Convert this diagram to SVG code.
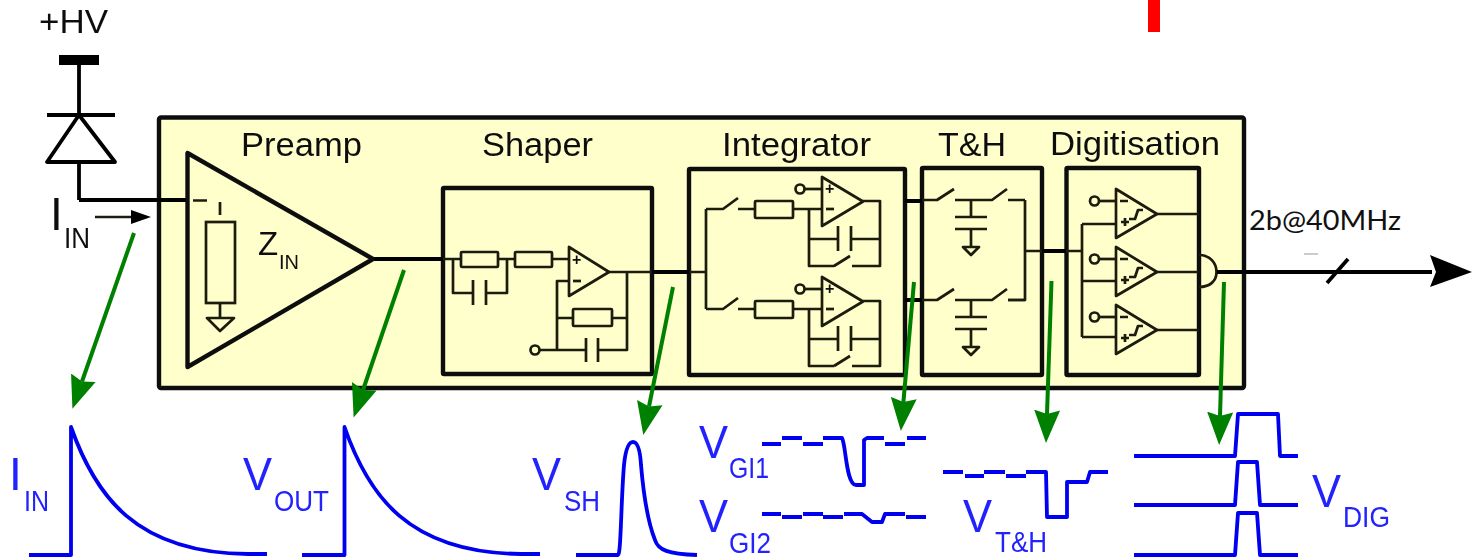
<svg xmlns="http://www.w3.org/2000/svg" xmlns:xlink="http://www.w3.org/1999/xlink" width="1472" height="558" viewBox="0 0 1472 558">
<style>
text{font-family:"Liberation Sans",Arial,sans-serif;fill:#111}
.t{font-size:33px}
.big{font-size:46px}
.sub{font-size:29px}
.b{fill:#2222ff}
.box{fill:none;stroke:#111;stroke-width:4.4;stroke-linejoin:round}
.w{fill:none;stroke:#1a1a10;stroke-width:2.7;stroke-linejoin:round}
.k{fill:none;stroke:#000;stroke-width:3.8;stroke-linejoin:round}
.c{fill:#ffffcc;stroke:#1a1a10;stroke-width:2.7}
.wave{fill:none;stroke:#0000f0;stroke-width:3.8;stroke-linejoin:round}
.g{fill:none;stroke:#008000;stroke-width:4;marker-end:url(#gh)}
.m{font-size:16px;font-weight:bold}
</style>
<defs>
<filter id="soft" x="0" y="0" width="100%" height="100%"><feGaussianBlur stdDeviation="0.5"/></filter>
<marker id="gh" markerUnits="userSpaceOnUse" markerWidth="36" markerHeight="28" refX="4" refY="14" orient="auto"><path d="M0,1L33,14L0,27L4,14Z" fill="#008000"/></marker>
<g id="amp"><path class="w" d="M0,0V49L41,24.500Z"/><text class="m" x="3" y="17">+</text><path class="w" d="M4,32H12"/></g>
<g id="cmp"><path class="w" d="M0,0V49L41,25Z"/><path class="w" d="M4,12H12M5,33H13M9,29V37"/><path class="w" d="M13,30H19L22,21H27"/><circle class="c" cx="-21.500" cy="12" r="4.500"/><path class="w" d="M-17,12H0"/></g>
<g id="gnd"><path class="w" d="M0,0V18M-8,18H8L0,26Z"/><path class="w" d="M-16,-12H16M-16,0H16"/></g>
<g id="intch">
<path class="w" d="M706,209H723L738,198M738,209H755M793,209H822"/>
<rect class="c" x="755" y="201" width="38" height="17" rx="1"/>
<use href="#amp" x="822" y="177"/>
<circle class="c" cx="800" cy="189" r="4.500"/><path class="w" d="M804,189H822"/>
<path class="w" d="M863,201H880V266H852M834,266H809V209M834,266L850,256M809,239H838M851,239H880M838,226V251M851,226V251"/>
</g>
<g id="thch">
<path class="w" d="M922,200H937L954,189M955,200H992L1007,189M1008,200H1025M971,200V217"/>
<use href="#gnd" x="971" y="229"/>
</g>
</defs>
<rect width="1472" height="558" fill="#fff"/>
<g filter="url(#soft)">
<g id="detector">
<text class="t" x="39" y="33" textLength="69" lengthAdjust="spacingAndGlyphs">+HV</text>
<rect x="59" y="55" width="40" height="10" fill="#000"/>
<path class="k" d="M79,65V115M47,115H115M79,115L47,162H115ZM79,162V200"/>
<text class="big" x="50" y="230">I</text><text class="sub" x="64" y="248" textLength="26" lengthAdjust="spacingAndGlyphs">IN</text>
</g>
<rect id="frontend" x="159" y="117.500" width="1085" height="270.500" rx="2" fill="#ffffcc" stroke="#111" stroke-width="4.400"/>
<g id="preamp">
<text class="t" x="241" y="156" textLength="121" lengthAdjust="spacingAndGlyphs">Preamp</text>
<path class="box" d="M187.500,153V367L373,259Z"/>
<path class="w" d="M193,200.500H207M220,202V215M220,303V317M207,318H234L220,331Z"/>
<rect class="c" x="206" y="222" width="29" height="81"/>
<text class="t" x="258" y="255">Z</text><text font-size="20" x="279" y="269" textLength="20" lengthAdjust="spacingAndGlyphs">IN</text>
</g>
<g id="shaper">
<text class="t" x="482" y="156" textLength="111" lengthAdjust="spacingAndGlyphs">Shaper</text>
<rect class="box" x="443" y="188" width="209" height="186" rx="1"/>
<path class="w" d="M443,259H461M498,259H515M552,259H569M453,259V293H473M486,293H507V259M473,280V305M486,280V305M609,272H652M627,272V350H598M569,281H557V350M540,350H586M557,318H573M612,318H627M586,338V362M598,338V362"/>
<rect class="c" x="461" y="252" width="37" height="15" rx="1"/>
<rect class="c" x="515" y="252" width="37" height="15" rx="1"/>
<rect class="c" x="573" y="309" width="39" height="17" rx="1"/>
<path class="w" d="M569,247V296L609,272Z"/><text class="m" x="572" y="265">+</text><path class="w" d="M573,281H581"/>
<circle class="c" cx="535" cy="350" r="4.500"/>
</g>
<g id="integrator">
<text class="t" x="722" y="156" textLength="149" lengthAdjust="spacingAndGlyphs">Integrator</text>
<rect class="box" x="689" y="169" width="216" height="206" rx="1"/>
<path class="w" d="M689,272H706M706,209V309"/>
<use href="#intch"/><use href="#intch" y="100"/>
</g>
<g id="track-hold">
<text class="t" x="938" y="156" textLength="68" lengthAdjust="spacingAndGlyphs">T&amp;H</text>
<rect class="box" x="922" y="168" width="120" height="207" rx="1"/>
<use href="#thch"/><use href="#thch" y="100"/>
<path class="w" d="M1025,200V300H1008M1025,251H1042"/>
</g>
<g id="digitisation">
<text class="t" x="1050" y="155" textLength="170" lengthAdjust="spacingAndGlyphs">Digitisation</text>
<rect class="box" x="1066.500" y="168" width="132.500" height="207" rx="1"/>
<path class="w" d="M1066,251H1082M1082,224V337M1082,224H1116M1082,281H1116M1082,337H1116M1157,214H1199M1157,272H1199M1157,330H1199M1199,255C1210,255 1216.500,263 1216.500,272C1216.500,281 1210,287 1199,287"/>
<use href="#cmp" x="1116" y="189"/><use href="#cmp" x="1116" y="247"/><use href="#cmp" x="1116" y="305"/>
</g>
<g id="connectors">
<path class="k" d="M79,200H186M374,259H443M652,272H689M905,201H922M905,300H922M1042,251H1066M1217,272H1432"/>
<path class="w" stroke="#000" d="M95,217H132"/><path d="M131,210L151,217L131,224Z" fill="#000"/>
<path class="k" d="M1327,283L1348,259"/>
<path d="M1304,254H1318" stroke="#bbb" stroke-width="1.500"/>
<path d="M1430,255L1472,272L1430,287L1436,272Z" fill="#000"/>
<path class="g" d="M134,233L82,381.500"/>
<path class="g" d="M404,270L363,390"/>
<path class="g" d="M673,287L649,406.500"/>
<path class="g" d="M914,282L903.400,402"/>
<path class="g" d="M1051.500,281L1047,414"/>
<path class="g" d="M1224,282L1220,416"/>
</g>
<g id="wave-iin">
<path class="wave" d="M29,555H71V427C95,495 135,553 248,554H267"/>
<text class="big b" x="9" y="490">I</text><text class="sub b" x="24" y="511" textLength="25" lengthAdjust="spacingAndGlyphs">IN</text>
</g>
<g id="wave-vout">
<path class="wave" d="M302,555H344.500V427C368,495 408,553 521,554H540"/>
<text class="big b" x="243" y="490" textLength="29" lengthAdjust="spacingAndGlyphs">V</text><text class="sub b" x="274" y="511" textLength="55" lengthAdjust="spacingAndGlyphs">OUT</text>
</g>
<g id="wave-vsh">
<path class="wave" d="M576,555H618C621,555 621,500 624,465C626,445 630,442 633,442C637,442 640,448 641,465C644,500 649,525 655,540C658,550 668,554 697,555"/>
<text class="big b" x="532" y="490" textLength="29" lengthAdjust="spacingAndGlyphs">V</text><text class="sub b" x="564" y="511" textLength="36" lengthAdjust="spacingAndGlyphs">SH</text>
</g>
<g id="wave-vgi">
<path class="wave" d="M762,444H781M782,438H802M803,444H823M823,438H842C846,445 846,485 856,485H864V440L867,438H884M885,444H905M907,438H926"/>
<path class="wave" d="M762,514H781M782,517H802M803,514H823M823,517H843M844,514H862L872,522H882L885,514H905M906,517H926"/>
<text class="big b" x="699" y="458" textLength="29" lengthAdjust="spacingAndGlyphs">V</text><text class="sub b" x="729" y="478" textLength="40" lengthAdjust="spacingAndGlyphs">GI1</text>
<text class="big b" x="699" y="532" textLength="29" lengthAdjust="spacingAndGlyphs">V</text><text class="sub b" x="729" y="553" textLength="42" lengthAdjust="spacingAndGlyphs">GI2</text>
</g>
<g id="wave-vth">
<path class="wave" d="M943,472H963M965,476H984M984,472H1005M1006,476H1026M1026,472H1046L1047,517H1067V482H1087L1090,472H1108"/>
<text class="big b" x="963" y="532" textLength="29" lengthAdjust="spacingAndGlyphs">V</text><text class="sub b" x="995" y="552" textLength="52" lengthAdjust="spacingAndGlyphs">T&amp;H</text>
</g>
<g id="wave-vdig">
<path class="wave" d="M1134,456H1235L1238,414H1278L1280,456H1298"/>
<path class="wave" d="M1134,505H1235L1238,462H1257L1260,505H1298"/>
<path class="wave" d="M1134,555H1235L1238,513H1257L1260,555H1298"/>
<text class="big b" x="1312" y="507" textLength="29" lengthAdjust="spacingAndGlyphs">V</text><text class="sub b" x="1343" y="527" textLength="47" lengthAdjust="spacingAndGlyphs">DIG</text>
</g>
</g>
<text id="rate" x="1249" y="230" font-size="27" style="font-family:Lato,'Open Sans',sans-serif" textLength="152" lengthAdjust="spacingAndGlyphs">2b@40MHz</text>
<rect id="red-mark" x="1148" y="0" width="12" height="32" fill="#ff0000"/>
</svg>
